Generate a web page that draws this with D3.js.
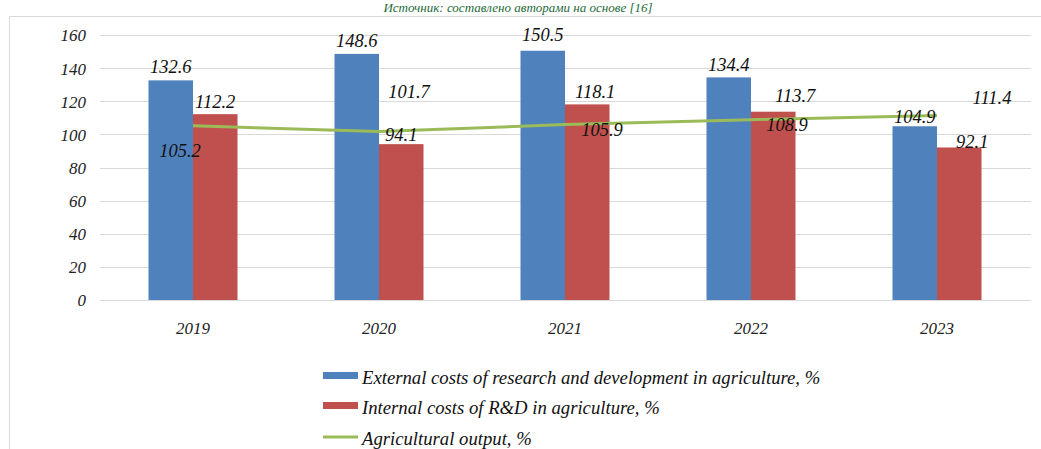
<!DOCTYPE html>
<html><head><meta charset="utf-8">
<script src="https://cdn.jsdelivr.net/npm/d3@7/dist/d3.min.js"></script>
<style>
body{margin:0;background:#fff;}
</style></head>
<body>
<svg id="c" width="1041" height="449"></svg>
<script>
const categories = ["2019","2020","2021","2022","2023"];
const externalCosts = [132.6,148.6,150.5,134.4,104.9];
const internalCosts = [112.2,94.1,118.1,113.7,92.1];
const agriOutput = [105.2,101.7,105.9,108.9,111.4];
const yTicks = [0,20,40,60,80,100,120,140,160];
const seriesNames = ["External costs of research and development in agriculture, %","Internal costs of R&D in agriculture, %","Agricultural output, %"];
const sourceText = "Источник: составлено авторами на основе [16]";

// label offsets (pixels) relative to their data point
const extLabelOff = [[0,-14],[0,-13],[0,-16],[0,-13],[0,-10]];
const intLabelOff = [[0,-13],[0,-10],[8,-13],[22,-16],[13,-6]];
const outLabelOff = [[-13,25],[30,-40],[37,5],[36,5],[55,-18]];

const FONT = "'Times New Roman', 'Liberation Serif', 'DejaVu Serif', serif";
const colors = {ext:"#4f81bd", int:"#c0504d", line:"#9bbb59"};
const svg = d3.select("#c");

// frame
svg.append("path").attr("d","M9.5,449 V16.5 H1041").attr("fill","none").attr("stroke","#d9d9d9").attr("stroke-width",1);

svg.append("text").attr("x",518).attr("y",12).attr("text-anchor","middle")
  .attr("font-family",FONT).attr("font-style","italic")
  .attr("fill","#1e6b3a").attr("font-size",13).text(sourceText);

const x = d3.scaleBand().domain(categories).range([100,1030]).paddingInner(0).paddingOuter(0);
const y = d3.scaleLinear().domain([0,160]).range([300,35]);
const barW = 44.5;
const off = [x.bandwidth()/2 - barW, x.bandwidth()/2];

// gridlines
svg.append("g").selectAll("line").data(yTicks).join("line")
  .attr("x1",100).attr("x2",1031).attr("y1",d=>Math.round(y(d))+0.5).attr("y2",d=>Math.round(y(d))+0.5)
  .attr("stroke","#d9d9d9").attr("stroke-width",1);

const yAxis = d3.axisLeft(y).tickValues(yTicks).tickSize(0).tickPadding(0);
const ga = svg.append("g").attr("transform","translate(86,0)").call(yAxis)
  .attr("font-family",FONT).attr("font-size",17);
ga.select(".domain").remove();
ga.selectAll("text").attr("font-style","italic").attr("fill","#222").attr("dy","0.35em");

const xAxis = d3.axisBottom(x).tickSize(0).tickPadding(0);
const gx = svg.append("g").attr("transform","translate(0,328)").call(xAxis)
  .attr("font-family",FONT).attr("font-size",17);
gx.select(".domain").remove();
gx.selectAll("text").attr("font-style","italic").attr("fill","#222").attr("dy","0.35em");

// bars
svg.append("g").selectAll("rect").data(externalCosts).join("rect")
  .attr("x",(d,i)=>x(categories[i])+off[0]).attr("width",barW)
  .attr("y",d=>y(d)).attr("height",d=>y(0)-y(d)).attr("fill",colors.ext);
svg.append("g").selectAll("rect").data(internalCosts).join("rect")
  .attr("x",(d,i)=>x(categories[i])+off[1]).attr("width",barW)
  .attr("y",d=>y(d)).attr("height",d=>y(0)-y(d)).attr("fill",colors.int);

// line
const line = d3.line().x((d,i)=>x(categories[i])+x.bandwidth()/2).y(d=>y(d));
svg.append("path").datum(agriOutput).attr("d",line).attr("fill","none")
  .attr("stroke",colors.line).attr("stroke-width",3);

// labels
function labels(data, offs, dxBase){
  svg.append("g").selectAll("text").data(data).join("text")
    .attr("x",(d,i)=>x(categories[i])+dxBase+offs[i][0])
    .attr("y",(d,i)=>y(d)+offs[i][1])
    .attr("dy","0.35em").attr("text-anchor","middle")
    .attr("font-family",FONT).attr("font-style","italic").attr("font-size",18.5).attr("fill","#111")
    .text(d=>d.toFixed(1));
}
labels(externalCosts, extLabelOff, off[0]+barW/2);
labels(internalCosts, intLabelOff, off[1]+barW/2);
labels(agriOutput, outLabelOff, x.bandwidth()/2);

// legend
const lg = svg.append("g");
const rows = [376, 406, 437];
lg.append("rect").attr("x",323).attr("y",rows[0]-4).attr("width",35).attr("height",7).attr("fill",colors.ext);
lg.append("rect").attr("x",323).attr("y",rows[1]-4).attr("width",35).attr("height",7).attr("fill",colors.int);
lg.append("line").attr("x1",323).attr("x2",358).attr("y1",rows[2]).attr("y2",rows[2]).attr("stroke",colors.line).attr("stroke-width",3);
lg.selectAll("text").data(seriesNames).join("text")
  .attr("x",362).attr("y",(d,i)=>rows[i]+1).attr("dy","0.35em")
  .attr("font-family",FONT).attr("font-style","italic").attr("font-size",18.7).attr("fill","#111").text(d=>d);
</script>
</body></html>
